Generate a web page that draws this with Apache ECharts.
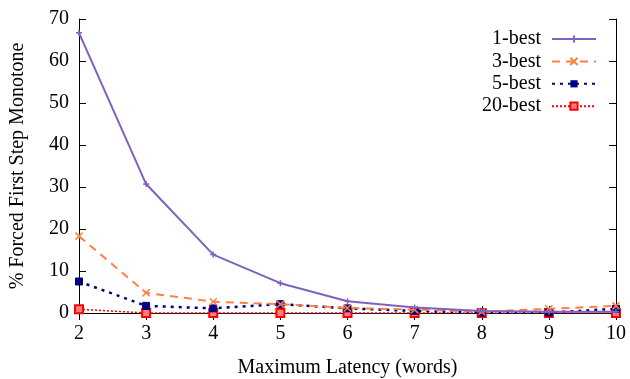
<!DOCTYPE html>
<html><head><meta charset="utf-8">
<script src="https://cdn.jsdelivr.net/npm/echarts@6/dist/echarts.min.js"></script>
<style>html,body{margin:0;padding:0;background:#fff}#c{width:630px;height:379px}</style>
</head><body><div id="c"></div>
<script>
const latency = [2, 3, 4, 5, 6, 7, 8, 9, 10];
const best1  = [66.7, 30.7, 13.9, 7.1, 2.8, 1.3, 0.5, 0.3, 0.3];
const best3  = [18.3, 4.8, 2.7, 2.1, 1.2, 0.8, 0.3, 1.0, 1.7];
const best5  = [7.5, 1.7, 1.1, 2.1, 1.1, 0.5, 0.1, 0.1, 1.0];
const best20 = [0.9, 0.0, 0.0, 0.0, 0.0, 0.0, 0.0, 0.0, 0.0];
const yTicks = [0, 10, 20, 30, 40, 50, 60, 70];

const FONT = 'Liberation Serif';
const FS = 20;
const pairs = a => latency.map((x, i) => [x, a[i]]);

const seriesDefs = [
  {name: '1-best', data: best1, color: '#8060c0', type: 'solid', width: 2, symbol: 'path://M0,-1L0,1M-1,0L1,0', size: 6},
  {name: '3-best', data: best3, color: '#ff8040', type: [8, 6], width: 2, symbol: 'path://M-1,-1L1,1M1,-1L-1,1', size: 7},
  {name: '5-best', data: best5, color: '#000080', type: [3, 5], width: 2.5, symbol: 'rect', size: 7},
  {name: '20-best', data: best20, color: '#ff0000', type: [2, 2], width: 1.5, symbol: 'rect', size: 8}
];

const chart = echarts.init(document.getElementById('c'), null, {renderer: 'canvas'});
const axisCommon = {
  axisLine: {show: true, lineStyle: {color: '#000', width: 1}},
  axisTick: {show: true, inside: true, length: 7, lineStyle: {color: '#000'}},
  splitLine: {show: false}
};
chart.setOption({
  animation: false,
  backgroundColor: '#fff',
  textStyle: {fontFamily: FONT},
  grid: {left: 79, right: 14, top: 19, bottom: 66, containLabel: false, outerBoundsMode: 'none'},
  legend: seriesDefs.map((s, i) => ({
    data: [s.name],
    orient: 'vertical',
    right: 28,
    top: 24 + i * 22.4,
    align: 'right',
    itemWidth: 44,
    itemHeight: 9,
    itemGap: 0,
    textStyle: {fontFamily: FONT, fontSize: FS, color: '#000', padding: [0, 6, 0, 0]},
    selectedMode: false
  })),
  xAxis: [
    Object.assign({type: 'value', min: 2, max: 10, interval: 1, position: 'bottom',
      name: 'Maximum Latency (words)', nameLocation: 'middle', nameGap: 45,
      nameTextStyle: {fontFamily: FONT, fontSize: FS, color: '#000'},
      axisLabel: {fontFamily: FONT, fontSize: FS, color: '#000', margin: 11}}, axisCommon),
    Object.assign({type: 'value', min: 2, max: 10, interval: 1, position: 'top',
      axisLabel: {show: false}}, axisCommon)
  ],
  yAxis: [
    Object.assign({type: 'value', min: 0, max: 70, interval: 10, position: 'left',
      name: '% Forced First Step Monotone', nameLocation: 'middle', nameGap: 51,
      nameTextStyle: {fontFamily: FONT, fontSize: FS, color: '#000'},
      axisLabel: {fontFamily: FONT, fontSize: FS, color: '#000', margin: 10,
        formatter: v => yTicks.includes(v) ? String(v) : ''}}, axisCommon),
    Object.assign({type: 'value', min: 0, max: 70, interval: 10, position: 'right',
      axisLabel: {show: false}}, axisCommon)
  ],
  series: seriesDefs.map((s, i) => ({
    name: s.name,
    type: 'line',
    data: pairs(s.data),
    symbol: s.symbol,
    symbolSize: s.size,
    showSymbol: true,
    z: 10 - i,
    lineStyle: {color: s.color, width: s.width, type: s.type},
    itemStyle: s.name === '20-best'
      ? {color: '#ff8080', borderColor: '#ff0000', borderWidth: 2}
      : (s.symbol.startsWith('path')
        ? {color: 'none', borderColor: s.color, borderWidth: 1.5}
        : {color: s.color, borderColor: s.color}),
    emphasis: {disabled: true}
  }))
});
</script></body></html>
